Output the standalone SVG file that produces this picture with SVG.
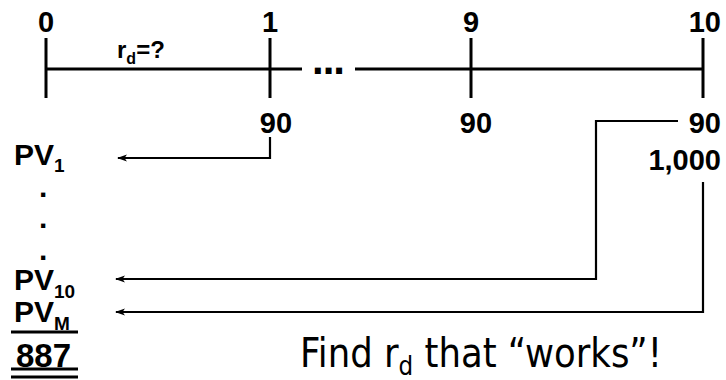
<svg xmlns="http://www.w3.org/2000/svg" width="726" height="380" viewBox="0 0 726 380">
<defs>
<style>
.b{font-family:"Liberation Sans",Arial,sans-serif;font-weight:bold;fill:#000}
.n{font-size:29px}
.tl{stroke:#000;stroke-width:3;fill:none}
.ar{stroke:#000;stroke-width:2.2;fill:none}
.ul{stroke:#000;stroke-width:3}
.f{font-family:"DejaVu Sans",Verdana,sans-serif;fill:#000}
</style>
<marker id="ah" markerWidth="11" markerHeight="8" refX="9" refY="4" orient="auto" markerUnits="userSpaceOnUse">
<path d="M0,0.5 L10,4 L0,7.5 L2.5,4 Z" fill="#000"/>
</marker>
</defs>
<rect width="726" height="380" fill="#fff"/>
<g id="timeline">
<path class="tl" d="M46,69 H302 M355,69 H703 M46,38 V98 M270,38 V98 M471,38 V98 M703,38 V98"/>
<text class="b" x="312" y="74" font-size="42" letter-spacing="-1">...</text>
</g>
<g id="t0"><text class="b n" x="46" y="32" text-anchor="middle">0</text></g>
<g id="t1"><text class="b n" x="270" y="32" text-anchor="middle">1</text></g>
<g id="t9"><text class="b n" x="471" y="32" text-anchor="middle">9</text></g>
<g id="t10"><text class="b n" x="721" y="32" text-anchor="end">10</text></g>
<g id="rate"><text class="b" x="117" y="58" font-size="24">r<tspan font-size="16" dy="6">d</tspan><tspan dy="-6">=?</tspan></text></g>
<g id="cf1"><text class="b n" x="276" y="133" text-anchor="middle">90</text></g>
<g id="cf9"><text class="b n" x="476" y="133" text-anchor="middle">90</text></g>
<g id="cf10"><text class="b n" x="721" y="133" text-anchor="end">90</text><text class="b n" x="721" y="170" text-anchor="end">1,000</text></g>
<g id="connectors">
<path class="ar" d="M270,137 V158 H118" marker-end="url(#ah)"/>
<path class="ar" d="M678,121 H596 V279 H116" marker-end="url(#ah)"/>
<path class="ar" d="M703,182 V312 H116" marker-end="url(#ah)"/>
</g>
<g id="pv1"><text class="b" x="14" y="165" font-size="30">PV<tspan font-size="19" dy="7">1</tspan></text></g>
<g id="dots">
<text class="b" x="39" y="197" font-size="30">.</text>
<text class="b" x="39" y="228" font-size="30">.</text>
<text class="b" x="39" y="260" font-size="30">.</text>
</g>
<g id="pv10"><text class="b" x="14" y="290" font-size="30">PV<tspan font-size="19" dy="8">10</tspan></text></g>
<g id="pvm"><text class="b" x="14" y="322" font-size="30">PV<tspan font-size="19" dy="8">M</tspan></text>
<line class="ul" x1="11" y1="332" x2="78" y2="332"/></g>
<g id="total"><text class="b" x="16" y="367" font-size="33">887</text>
<line class="ul" x1="11" y1="369" x2="78" y2="369"/>
<line class="ul" x1="11" y1="377" x2="78" y2="377"/></g>
<g id="note"><text class="f" x="300" y="367" font-size="40" textLength="362" lengthAdjust="spacingAndGlyphs">Find r<tspan font-size="26" dy="8">d</tspan><tspan dy="-8"> that “works”!</tspan></text></g>
</svg>
